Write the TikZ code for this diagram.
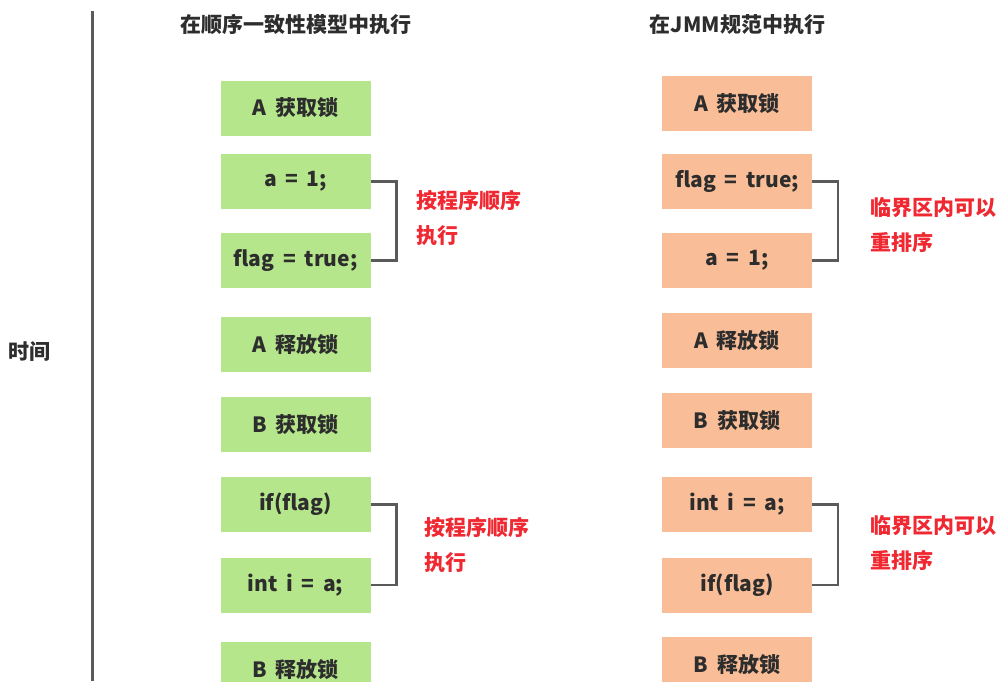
\documentclass[tikz,border=0pt]{standalone}
\usepackage{fontspec}
\setmainfont{Noto Sans CJK SC}[WordSpace=1.8]
\definecolor{boxgreen}{RGB}{181,230,140}
\definecolor{boxorange}{RGB}{249,190,152}
\definecolor{textdark}{RGB}{45,45,45}
\definecolor{notered}{RGB}{240,40,50}
\definecolor{linegray}{RGB}{90,90,90}
\begin{document}
\begin{tikzpicture}[x=1pt, y=-1pt,
    font=\fontsize{21}{25}\selectfont\bfseries,
    stepbox/.style={minimum width=150pt, minimum height=55pt, inner sep=0pt, text=textdark},
    sc/.style={stepbox, fill=boxgreen},
    jmm/.style={stepbox, fill=boxorange},
    note/.style={anchor=west, align=left, text=notered, font=\fontsize{21}{35}\selectfont\bfseries},
    bracket/.style={draw=linegray, line width=2.5pt}]
    \useasboundingbox (0,0) rectangle (1000,681);
    \clip (0,0) rectangle (1000,681);

    % Time axis
    \draw[linegray, line width=3pt] (92,11) -- (92,681);
    \node[text=textdark] (time) at (30,352) {时间};

    % Titles
    \node[text=textdark] (titleSC) at (295.5,25) {在顺序一致性模型中执行};
    \node[text=textdark] (titleJMM) at (737.5,25) {在JMM规范中执行};

    % Sequential consistency
    \node[sc] (scAlock) at (295.5,108) {A 获取锁};
    \node[sc] (scA) at (295.5,181.5) {a = 1;};
    \node[sc] (scFlag) at (295.5,260.5) {flag = true;};
    \node[sc] (scAunlock) at (295.5,344.5) {A 释放锁};
    \node[sc] (scBlock) at (295.5,424.5) {B 获取锁};
    \node[sc] (scIf) at (295.5,504.5) {if(flag)};
    \node[sc] (scI) at (295.5,585) {int i = a;};
    \node[sc] (scBunlock) at (295.5,669.5) {B 释放锁};

    % JMM
    \node[jmm] (jmmAlock) at (737,103.5) {A 获取锁};
    \node[jmm] (jmmFlag) at (737,181.5) {flag = true;};
    \node[jmm] (jmmA) at (737,260.5) {a = 1;};
    \node[jmm] (jmmAunlock) at (737,340.5) {A 释放锁};
    \node[jmm] (jmmBlock) at (737,420.5) {B 获取锁};
    \node[jmm] (jmmI) at (737,504.5) {int i = a;};
    \node[jmm] (jmmIf) at (737,585) {if(flag)};
    \node[jmm] (jmmBunlock) at (737,664.5) {B 释放锁};

    % Brackets
    \draw[bracket] (scA.east) -- ++(26,0) |- (scFlag.east);
    \draw[bracket] (scIf.east) -- ++(26,0) |- (scI.east);
    \draw[bracket] (jmmFlag.east) -- ++(26,0) |- (jmmA.east);
    \draw[bracket] (jmmI.east) -- ++(26,0) |- (jmmIf.east);

    % Notes
    \node[note] (scNote1) at (413,218.5) {按程序顺序\\执行};
    \node[note] (scNote2) at (421,544.5) {按程序顺序\\执行};
    \node[note] (jmmNote1) at (867,225.5) {临界区内可以\\重排序};
    \node[note] (jmmNote2) at (867,543.5) {临界区内可以\\重排序};
\end{tikzpicture}
\end{document}
